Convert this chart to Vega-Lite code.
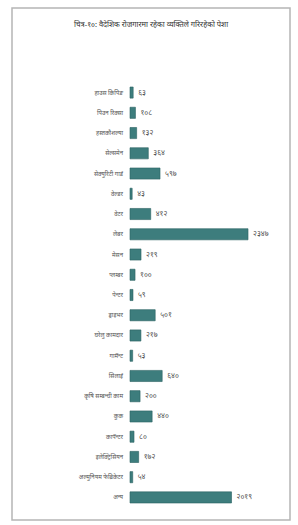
{
  "$schema": "https://vega.github.io/schema/vega-lite/v6.json",
  "width": 278,
  "height": 512,
  "autosize": {"type": "none"},
  "padding": {"left": 12, "top": 8, "right": 8, "bottom": 5},
  "background": "white",
  "config": {
    "view": {"stroke": "#b5b5b5", "strokeWidth": 1.5},
    "font": "Noto Sans"
  },
  "title": {
    "text": "चित्र-१०: वैदेशिक रोजगारमा रहेका व्यक्तिले गरिरहेको पेशा",
    "anchor": "middle",
    "offset": -20,
    "fontSize": 7.5,
    "fontWeight": "normal",
    "color": "#333"
  },
  "data": {
    "values": [
      {"pesha": "हाउस किपिङ", "n": 63, "lbl": "६३"},
      {"pesha": "पिउन रिक्सा", "n": 108, "lbl": "१०८"},
      {"pesha": "हस्तकौशल्या", "n": 132, "lbl": "१३२"},
      {"pesha": "सेल्समेन", "n": 364, "lbl": "३६४"},
      {"pesha": "सेक्युरिटी गार्ड", "n": 597, "lbl": "५९७"},
      {"pesha": "वेल्डर", "n": 43, "lbl": "४३"},
      {"pesha": "वेटर", "n": 412, "lbl": "४१२"},
      {"pesha": "लेबर", "n": 2347, "lbl": "२३४७"},
      {"pesha": "मेसन", "n": 219, "lbl": "२१९"},
      {"pesha": "प्लम्बर", "n": 100, "lbl": "१००"},
      {"pesha": "पेन्टर", "n": 59, "lbl": "५९"},
      {"pesha": "ड्राइभर", "n": 501, "lbl": "५०१"},
      {"pesha": "घरेलु कामदार", "n": 217, "lbl": "२१७"},
      {"pesha": "गार्मेन्ट", "n": 53, "lbl": "५३"},
      {"pesha": "सिलाई", "n": 640, "lbl": "६४०"},
      {"pesha": "कृषि सम्बन्धी काम", "n": 200, "lbl": "२००"},
      {"pesha": "कुक", "n": 440, "lbl": "४४०"},
      {"pesha": "कार्पेन्टर", "n": 80, "lbl": "८०"},
      {"pesha": "इलेक्ट्रिसियन", "n": 172, "lbl": "१७२"},
      {"pesha": "अल्मुनियम फेब्रिकेटर", "n": 54, "lbl": "५४"},
      {"pesha": "अन्य", "n": 2019, "lbl": "२०१९"}
    ]
  },
  "encoding": {
    "y": {
      "field": "pesha",
      "type": "nominal",
      "sort": null,
      "axis": null,
      "scale": {"range": [79, 495], "paddingInner": 0.45, "paddingOuter": 0}
    }
  },
  "layer": [
    {
      "mark": {"type": "bar", "color": "#3d7d7d", "stroke": "#2a6262", "strokeWidth": 0.6},
      "encoding": {
        "x": {"field": "n", "type": "quantitative", "axis": null, "scale": {"domain": [-2347, 3182], "nice": false, "zero": false}}
      }
    },
    {
      "mark": {"type": "text", "align": "left", "baseline": "middle", "dx": 5, "fontSize": 7.5, "color": "#555"},
      "encoding": {
        "x": {"field": "n", "type": "quantitative"},
        "text": {"field": "lbl"}
      }
    },
    {
      "mark": {"type": "text", "align": "right", "baseline": "middle", "dx": -7, "fontSize": 6, "color": "#555"},
      "encoding": {
        "x": {"datum": 0, "type": "quantitative"},
        "text": {"field": "pesha"}
      }
    }
  ]
}
